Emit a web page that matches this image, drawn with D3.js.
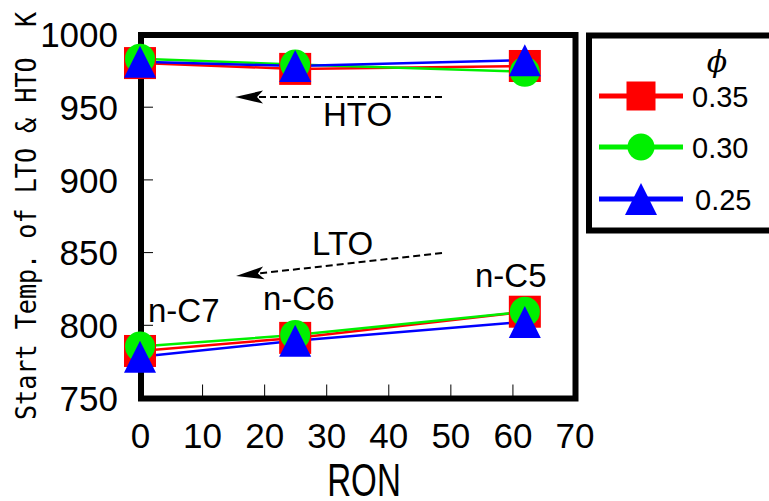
<!DOCTYPE html>
<html>
<head>
<meta charset="utf-8">
<script src="https://cdn.jsdelivr.net/npm/d3@7"></script>
<style>
  body { margin: 0; background: #fff; }
  svg { display: block; }
</style>
</head>
<body>
<div id="chart"></div>
<script>
//Data
const ron = [0, 25, 62];
const fuels = ["n-C7", "n-C6", "n-C5"];
const phis = ["0.35", "0.30", "0.25"];
const htoRed = [980, 976, 978];
const htoGreen = [983, 979, 974];
const htoBlue = [981, 978, 982];
const ltoRed = [782, 791, 809];
const ltoGreen = [785, 793, 809];
const ltoBlue = [778, 789, 802];
const xTicks = [0, 10, 20, 30, 40, 50, 60, 70];
const yTicks = [750, 800, 850, 900, 950, 1000];

//Dim
const width = 769;
const height = 501;
const colors = ["#ff0000", "#00f000", "#0000ff"];
const shapes = ["square", "circle", "triangle"];
const tickFont = "'Liberation Sans Narrow', 'Liberation Sans', Arial, sans-serif";
const textFont = "'Liberation Sans', Arial, sans-serif";

const svg = d3.select("#chart")
    .append("svg")
    .attr("width", width)
    .attr("height", height);

//Scaling
const x = d3.scaleLinear().domain([0, 70]).range([140, 574.5]);
const y = d3.scaleLinear().domain([750, 1000]).range([397.5, 34]);

//Axes (ticks inside)
const xAxis = svg.append("g")
    .attr("transform", `translate(0,${y(750)})`)
    .call(d3.axisBottom(x).tickValues(xTicks).tickFormat(d3.format("d")).tickSize(-13).tickPadding(0));
xAxis.select(".domain").remove();
xAxis.selectAll("line").attr("stroke", "#000").attr("stroke-width", 1);
xAxis.selectAll("text")
    .attr("y", 50).attr("dy", 0)
    .style("font-family", tickFont).style("font-size", "35px").attr("fill", "#000");

const yAxis = svg.append("g")
    .attr("transform", `translate(${x(0)},0)`)
    .call(d3.axisLeft(y).tickValues(yTicks).tickFormat(d3.format("d")).tickSize(-13).tickPadding(0));
yAxis.select(".domain").remove();
yAxis.selectAll("line").attr("stroke", "#000").attr("stroke-width", 1);
yAxis.selectAll("text")
    .attr("x", -22).attr("dy", "0.36em")
    .style("font-family", tickFont).style("font-size", "35px").attr("fill", "#000");

//Frame
svg.append("rect")
    .attr("x", x(0) + 1).attr("y", y(1000) + 1)
    .attr("width", x(70) - x(0)).attr("height", y(750) - y(1000))
    .attr("fill", "none").attr("stroke", "#000").attr("stroke-width", 6);

//Axis titles
svg.append("text")
    .attr("transform", `translate(364,496) scale(0.72,1)`)
    .attr("text-anchor", "middle")
    .style("font-family", tickFont).style("font-size", "46px")
    .text("RON");

svg.append("text")
    .attr("transform", "translate(36,216) rotate(-90)")
    .attr("text-anchor", "middle")
    .attr("textLength", 408).attr("lengthAdjust", "spacingAndGlyphs")
    .style("white-space", "pre")
    .style("font-family", "'DejaVu Sans Mono', 'Liberation Mono', monospace")
    .style("font-size", "29px")
    .text("Start Temp. of LTO & HTO  K");

//Arrows (dashed shaft + filled head)
const arrows = [
    { x1: 442, y1: 97, x2: 235, y2: 97 },
    { x1: 442, y1: 253, x2: 236, y2: 276 }
];
arrows.forEach(a => {
    const ang = Math.atan2(a.y2 - a.y1, a.x2 - a.x1);
    svg.append("line")
        .attr("x1", a.x1).attr("y1", a.y1)
        .attr("x2", a.x2 - 20 * Math.cos(ang)).attr("y2", a.y2 - 20 * Math.sin(ang))
        .attr("stroke", "#000").attr("stroke-width", 2).attr("stroke-dasharray", "7,4");
    svg.append("path")
        .attr("transform", `translate(${a.x2},${a.y2}) rotate(${ang * 180 / Math.PI})`)
        .attr("d", "M0,0 L-28,-6.5 L-22,0 L-28,6.5 Z")
        .attr("fill", "#000");
});

svg.append("text").attr("x", 323).attr("y", 126)
    .style("font-family", textFont).style("font-size", "33px").text("HTO");
svg.append("text").attr("x", 312).attr("y", 255)
    .style("font-family", textFont).style("font-size", "33px").text("LTO");

//Series
const series = [
    { vals: htoRed, c: 0 }, { vals: htoGreen, c: 1 }, { vals: htoBlue, c: 2 },
    { vals: ltoRed, c: 0 }, { vals: ltoGreen, c: 1 }, { vals: ltoBlue, c: 2 }
];
const line = d3.line().x((d, i) => x(ron[i])).y(d => y(d));

svg.selectAll(".series")
    .data(series)
    .enter()
    .append("path")
    .attr("d", d => line(d.vals))
    .attr("fill", "none")
    .attr("stroke", d => colors[d.c])
    .attr("stroke-width", 2.5);

function marker(g, shape, color, s) {
    if (shape === "square") {
        g.append("rect").attr("x", -s / 2).attr("y", -s / 2).attr("width", s).attr("height", s).attr("fill", color);
    } else if (shape === "circle") {
        g.append("circle").attr("r", s / 2 - 1).attr("fill", color);
    } else {
        g.append("path").attr("d", `M0,${-s / 2} L${s / 2},${s / 2} L${-s / 2},${s / 2} Z`).attr("fill", color);
    }
}

[0, 1, 2].forEach(c => {
    series.filter(d => d.c === c).forEach(d => {
        d.vals.forEach((v, i) => {
            const g = svg.append("g").attr("transform", `translate(${x(ron[i])},${y(v)})`);
            marker(g, shapes[c], colors[c], 32);
        });
    });
});

//Fuel labels
const fuelPos = [[148, 322], [263, 310], [475, 287]];
svg.selectAll(".fuel")
    .data(fuels)
    .enter()
    .append("text")
    .attr("x", (d, i) => fuelPos[i][0])
    .attr("y", (d, i) => fuelPos[i][1])
    .style("font-family", textFont).style("font-size", "33px")
    .text(d => d);

//Legend
svg.append("rect")
    .attr("x", 589).attr("y", 35.5).attr("width", 200).attr("height", 195)
    .attr("fill", "#fff").attr("stroke", "#000").attr("stroke-width", 6);
svg.append("text").attr("x", 717).attr("y", 72).attr("text-anchor", "middle")
    .style("font-family", "'DejaVu Serif', serif").style("font-style", "italic").style("font-size", "30px")
    .text("\u03d5");
const legY = [96, 147, 199];
phis.forEach((p, i) => {
    svg.append("line").attr("x1", 599).attr("x2", 683).attr("y1", legY[i]).attr("y2", legY[i])
        .attr("stroke", colors[i]).attr("stroke-width", 5);
    const g = svg.append("g").attr("transform", `translate(641,${legY[i]})`);
    marker(g, shapes[i], colors[i], i === 2 ? 32 : 29);
    svg.append("text").attr("x", i === 2 ? 695 : 692).attr("y", legY[i] + 11)
        .style("font-family", textFont).style("font-size", "29px")
        .text(p);
});
</script>
</body>
</html>
